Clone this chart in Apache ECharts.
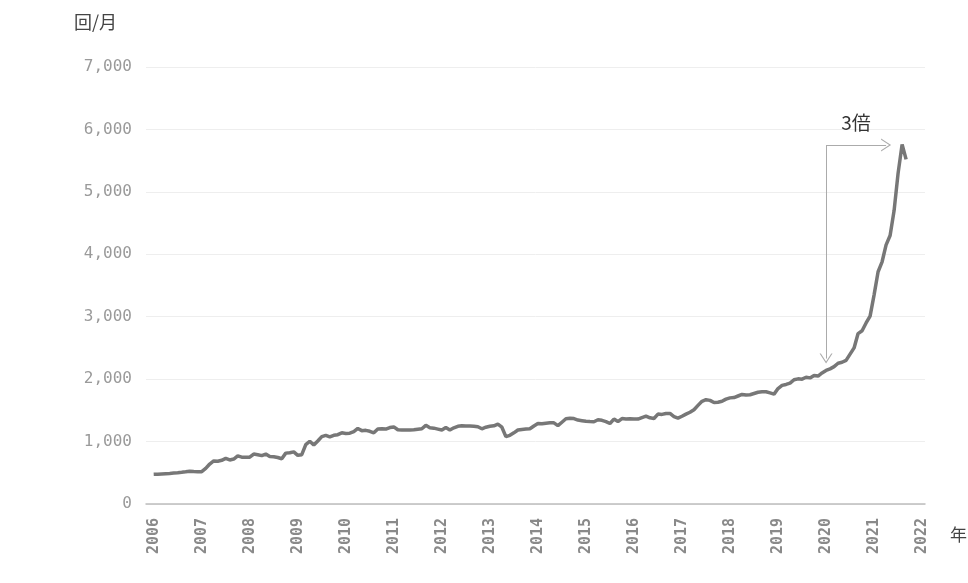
<!DOCTYPE html>
<html>
<head>
<meta charset="utf-8">
<script src="https://cdn.jsdelivr.net/npm/echarts@6/dist/echarts.min.js"></script>
<style>html,body{margin:0;padding:0;background:#fff;}#c{width:968px;height:583px;}</style>
</head>
<body>
<div id="c"></div>
<script>
// Monthly values (回/月), Jan..Dec
const startYear = 2006;
const v2006 = [475, 478, 482, 486, 490, 495, 500, 507, 515, 525, 520, 518];
const v2007 = [518, 570, 640, 690, 685, 700, 730, 705, 720, 770, 750, 748];
const v2008 = [750, 800, 790, 775, 800, 760, 758, 745, 725, 815, 820, 835];
const v2009 = [780, 790, 950, 1005, 945, 1010, 1080, 1100, 1075, 1100, 1110, 1140];
const v2010 = [1130, 1135, 1160, 1210, 1175, 1180, 1165, 1140, 1200, 1205, 1200, 1225];
const v2011 = [1235, 1190, 1185, 1185, 1185, 1190, 1198, 1205, 1260, 1222, 1215, 1200];
const v2012 = [1185, 1225, 1185, 1220, 1245, 1252, 1250, 1248, 1245, 1237, 1205, 1230];
const v2013 = [1245, 1253, 1280, 1230, 1080, 1100, 1140, 1185, 1195, 1200, 1205, 1250];
const v2014 = [1290, 1285, 1295, 1300, 1300, 1255, 1310, 1365, 1372, 1368, 1345, 1335];
const v2015 = [1325, 1320, 1318, 1350, 1340, 1320, 1290, 1360, 1320, 1368, 1360, 1365];
const v2016 = [1360, 1360, 1385, 1408, 1380, 1370, 1440, 1435, 1450, 1450, 1400, 1375];
const v2017 = [1405, 1440, 1470, 1510, 1580, 1645, 1670, 1660, 1625, 1630, 1645, 1680];
const v2018 = [1700, 1705, 1730, 1755, 1745, 1750, 1770, 1790, 1797, 1797, 1780, 1760];
const v2019 = [1850, 1900, 1915, 1935, 1990, 2005, 2000, 2030, 2020, 2060, 2050, 2100];
const v2020 = [2140, 2165, 2200, 2255, 2270, 2300, 2400, 2500, 2730, 2775, 2900, 3010];
const v2021 = [3350, 3720, 3880, 4150, 4300, 4700, 5300, 5760, 5520];

const yearTicks = [2006, 2007, 2008, 2009, 2010, 2011, 2012, 2013, 2014, 2015, 2016, 2017, 2018, 2019, 2020, 2021, 2022];
const yTicks = [0, 1000, 2000, 3000, 4000, 5000, 6000, 7000];

// Annotation: 2020 level -> 3x
const annoFromX = 2020, annoTopY = 5750, annoBottomY = 2330, annoRightX = 2021.25;
const annoLabel = '3倍';
const yName = '回/月';
const xName = '年';

const all = [].concat(v2006, v2007, v2008, v2009, v2010, v2011, v2012, v2013, v2014, v2015, v2016, v2017, v2018, v2019, v2020, v2021);
const seriesData = all.map((v, i) => [startYear + i / 12, v]);

const chevron = 'path://M0,10 L5,0 L10,10 L9,10 L5,2 L1,10 Z';

const chart = echarts.init(document.getElementById('c'), null, {renderer: 'canvas'});
chart.setOption({
  backgroundColor: '#ffffff',
  animation: false,
  grid: {left: 146, right: 43, top: 67, bottom: 79, containLabel: false},
  xAxis: {
    type: 'value',
    min: 2005.84,
    max: 2022.06,
    axisLine: {show: true, lineStyle: {color: '#bdbdbd', width: 1.5}},
    axisTick: {show: false},
    splitLine: {show: false},
    axisLabel: {
      customValues: yearTicks,
      rotate: 90,
      margin: 14,
      color: '#8a8a8a',
      fontFamily: 'DejaVu Sans Mono',
      fontWeight: 'bold',
      fontSize: 15,
      formatter: v => String(v)
    }
  },
  yAxis: {
    type: 'value',
    min: 0,
    max: 7000,
    interval: 1000,
    axisLine: {show: false},
    axisTick: {show: false},
    splitLine: {show: true, lineStyle: {color: '#eeeeee', width: 1}},
    axisLabel: {
      margin: 14,
      color: '#9a9a9a',
      fontFamily: 'DejaVu Sans Mono',
      fontSize: 16,
      formatter: v => yTicks.includes(v) ? v.toLocaleString('en-US') : ''
    }
  },
  graphic: [
    {type: 'text', left: 74, top: 13, style: {text: yName, fill: '#444', font: '18px "Noto Sans CJK JP"'}},
    {type: 'text', left: 950, top: 526, style: {text: xName, fill: '#444', font: '17px "Noto Sans CJK JP"'}}
  ],
  series: [{
    type: 'line',
    data: seriesData,
    showSymbol: false,
    symbol: 'none',
    smooth: false,
    lineStyle: {color: '#777777', width: 3.5},
    itemStyle: {color: '#777777'},
    markLine: {
      silent: true,
      animation: false,
      symbol: ['none', chevron],
      symbolSize: [13, 10],
      lineStyle: {color: '#ababab', width: 1, type: 'solid'},
      label: {show: false},
      data: [
        [{coord: [annoFromX, annoTopY]}, {coord: [annoFromX, annoBottomY]}],
        [{coord: [annoFromX, annoTopY], label: {show: true, formatter: annoLabel, position: 'insideMiddleTop', distance: 13, color: '#333', fontSize: 19, fontFamily: '"Noto Sans CJK JP", sans-serif'}},
         {coord: [annoRightX, annoTopY]}]
      ]
    }
  }]
});
</script>
</body>
</html>
